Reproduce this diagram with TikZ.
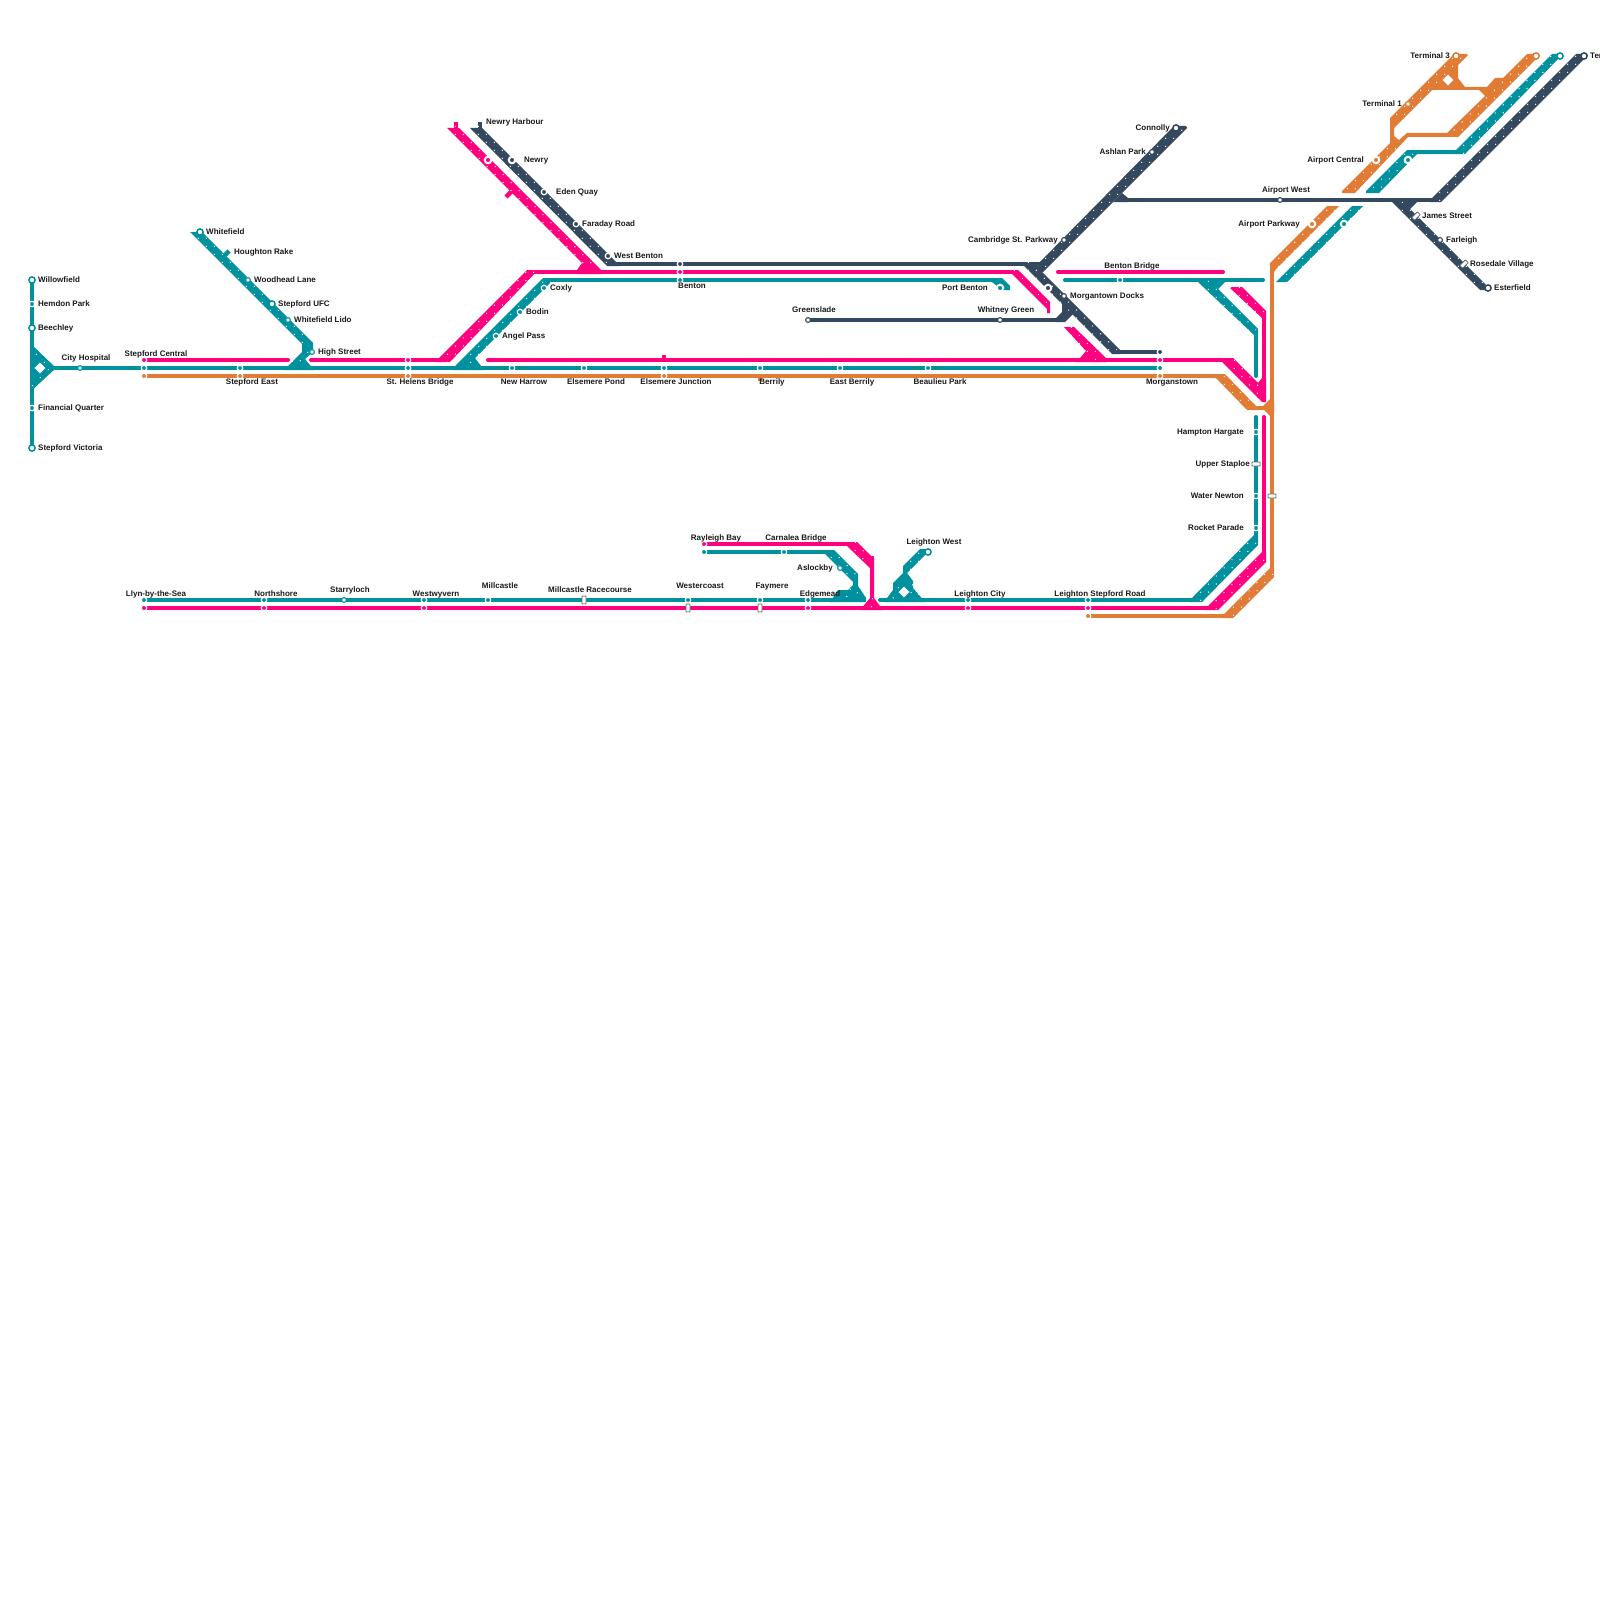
\documentclass[tikz,border=0pt]{standalone}
\usepackage{fontspec}
\setmainfont{Liberation Sans}
\usepackage{xcolor}
\usetikzlibrary{positioning, calc, backgrounds}

\definecolor{metroteal}{HTML}{00919E}
\definecolor{metropink}{HTML}{FF007F}
\definecolor{metroorange}{HTML}{E17C36}
\definecolor{metronavy}{HTML}{34495E}

\newcommand{\ribbondots}[2]{%
  \draw[dotsrow] ($#1!2.83pt!90:#2$) -- ($#2!2.83pt!-90:#1$);
  \draw[dotsrow, dash phase=5.66pt] ($#1!2.83pt!-90:#2$) -- ($#2!2.83pt!90:#1$);}

\begin{document}
\begin{tikzpicture}[x=1pt, y=-1pt,
  ringstop/.style={circle, fill=white, draw=#1, line width=1.5pt, minimum size=6.2pt, inner sep=0pt},
  tinyring/.style={circle, fill=white, draw=#1, line width=1.1pt, minimum size=4.8pt, inner sep=0pt},
  dotstop/.style={circle, fill=#1, draw=white, line width=1.2pt, minimum size=5.5pt, inner sep=0pt},
  hubstop/.style={circle, fill=#1, draw=white, line width=2pt, minimum size=6.5pt, inner sep=0pt},
  rectstop/.style={rectangle, rounded corners=0.5pt, fill=white, draw=black!60, line width=0.8pt, minimum width=8pt, minimum height=4pt, inner sep=0pt},
  gem/.style={rectangle, fill=white, rotate=45, minimum size=7.5pt, inner sep=0pt},
  lab/.style={font=\bfseries\fontsize{8}{8}\selectfont, text=black!90, inner sep=0pt, text height=7.8pt, text depth=0pt},
  tealline/.style={draw=metroteal, line width=4pt},
  pinkline/.style={draw=metropink, line width=4pt},
  orangeline/.style={draw=metroorange, line width=4pt},
  navyline/.style={draw=metronavy, line width=4pt},
  dotsrow/.style={draw=white, line width=1pt, dash pattern=on 1pt off 10.31pt}]

\useasboundingbox (0,0) rectangle (1600,1600);

% stations, west end
\node[ringstop=metroteal] (willowfield) at (32,280) {};
\node[dotstop=metroteal] (hemdon) at (32,304) {};
\node[ringstop=metroteal] (beechley) at (32,328) {};
\node[dotstop=metroteal] (financial) at (32,408) {};
\node[ringstop=metroteal] (victoria) at (32,448) {};
\node[tinyring=metroteal] (cityhospital) at (80,368) {};
\node[gem] (citygem) at (40,368) {};
\node[dotstop=metropink] (centralpink) at (144,360) {};
\node[dotstop=metroteal] (centralteal) at (144,368) {};
\node[dotstop=metroorange] (centralorange) at (144,376) {};
\node[dotstop=metroteal] (eastteal) at (240,368) {};
\node[dotstop=metroorange] (eastorange) at (240,376) {};
\node[ringstop=metroteal] (whitefield) at (200,232) {};
\node[tinyring=metroteal] (woodhead) at (248,280) {};
\node[ringstop=metroteal] (ufc) at (272,304) {};
\node[tinyring=metroteal] (lido) at (288,320) {};
\node[tinyring=metroteal] (highstreet) at (312,352) {};
\node[dotstop=metropink] (helenspink) at (408,360) {};
\node[dotstop=metroteal] (helensteal) at (408,368) {};
\node[dotstop=metroorange] (helensorange) at (408,376) {};

% stations, middle band
\node[hubstop=metropink] (newrypink) at (488,160) {};
\node[hubstop=metronavy] (newry) at (512,160) {};
\node[dotstop=metronavy] (edenquay) at (544,192) {};
\node[dotstop=metronavy] (faraday) at (576,224) {};
\node[dotstop=metronavy] (westbenton) at (608,256) {};
\node[dotstop=metroteal] (coxly) at (544,288) {};
\node[dotstop=metroteal] (bodin) at (520,312) {};
\node[dotstop=metroteal] (angelpass) at (496,336) {};
\node[dotstop=metroteal] (newharrow) at (512,368) {};
\node[dotstop=metroteal] (pond) at (584,368) {};
\node[dotstop=metroteal] (junctionteal) at (664,368) {};
\node[dotstop=metroorange] (junctionorange) at (664,376) {};
\node[dotstop=metronavy] (bentonnavy) at (680,264) {};
\node[dotstop=metropink] (bentonpink) at (680,272) {};
\node[dotstop=metroteal] (bentonteal) at (680,280) {};
\node[dotstop=metroteal] (berrily) at (760,368) {};
\node[dotstop=metroteal] (eastberrily) at (840,368) {};
\node[dotstop=metroteal] (beaulieu) at (928,368) {};
\node[tinyring=metronavy] (greenslade) at (808,320) {};
\node[tinyring=metronavy] (whitney) at (1000,320) {};
\node[hubstop=metroteal] (portbenton) at (1000,288) {};
\node[dotstop=metronavy] (morganone) at (1160,352) {};
\node[dotstop=metropink] (morgantwo) at (1160,360) {};
\node[dotstop=metroteal] (morganthree) at (1160,368) {};
\node[dotstop=metroorange] (morganfour) at (1160,376) {};

% stations, north east
\node[ringstop=metronavy] (connolly) at (1176,128) {};
\node[tinyring=metronavy] (ashlan) at (1152,152) {};
\node[tinyring=metronavy] (cambridge) at (1064,240) {};
\node[hubstop=metronavy] (docksnorth) at (1048,288) {};
\node[tinyring=metronavy] (docks) at (1064,296) {};
\node[dotstop=metroteal] (bentonbridge) at (1120,280) {};
\node[tinyring=metronavy] (airportwest) at (1280,200) {};
\node[hubstop=metroorange] (parkway) at (1312,224) {};
\node[hubstop=metroteal] (parkwayteal) at (1344,224) {};
\node[rectstop, rotate=45] (james) at (1416,216) {};
\node[tinyring=metronavy] (farleigh) at (1440,240) {};
\node[rectstop, rotate=45] (rosedale) at (1464,264) {};
\node[ringstop=metronavy] (esterfield) at (1488,288) {};
\node[hubstop=metroorange] (airportcentral) at (1376,160) {};
\node[hubstop=metroteal] (centraleast) at (1408,160) {};
\node[tinyring=metroorange] (terminalone) at (1408,104) {};
\node[ringstop=metroorange] (terminalthree) at (1456,56) {};
\node[gem] (terminalgem) at (1448,80) {};
\node[ringstop=metroorange] (orangeend) at (1536,56) {};
\node[ringstop=metroteal] (tealend) at (1560,56) {};
\node[ringstop=metronavy] (navyend) at (1584,56) {};

% stations, south side
\node[dotstop=metroteal] (hampton) at (1256,432) {};
\node[rectstop] (staploe) at (1256,464) {};
\node[dotstop=metroteal] (newton) at (1256,496) {};
\node[rectstop] (newtonorange) at (1272,496) {};
\node[dotstop=metroteal] (rocket) at (1256,528) {};
\node[dotstop=metroteal] (llynteal) at (144,600) {};
\node[dotstop=metropink] (llynpink) at (144,608) {};
\node[dotstop=metroteal] (northteal) at (264,600) {};
\node[dotstop=metropink] (northpink) at (264,608) {};
\node[tinyring=metroteal] (starry) at (344,600) {};
\node[dotstop=metroteal] (wyvernteal) at (424,600) {};
\node[dotstop=metropink] (wyvernpink) at (424,608) {};
\node[dotstop=metroteal] (millcastle) at (488,600) {};
\node[rectstop, rotate=90] (racecourse) at (584,600) {};
\node[dotstop=metroteal] (coastteal) at (688,600) {};
\node[rectstop, rotate=90] (coastpink) at (688,608) {};
\node[dotstop=metroteal] (faymereteal) at (760,600) {};
\node[rectstop, rotate=90] (faymerepink) at (760,608) {};
\node[dotstop=metroteal] (edgeteal) at (808,600) {};
\node[dotstop=metropink] (edgepink) at (808,608) {};
\node[dotstop=metropink] (rayleighpink) at (704,544) {};
\node[dotstop=metroteal] (rayleighteal) at (704,552) {};
\node[dotstop=metroteal] (carnalea) at (784,552) {};
\node[tinyring=metroteal] (aslockby) at (840,568) {};
\node[ringstop=metroteal] (leightonwest) at (928,552) {};
\node[gem] (leightongem) at (904,592) {};
\node[dotstop=metroteal] (cityteal) at (968,600) {};
\node[dotstop=metropink] (citypink) at (968,608) {};
\node[dotstop=metroteal] (roadteal) at (1088,600) {};
\node[dotstop=metropink] (roadpink) at (1088,608) {};
\node[dotstop=metroorange] (roadorange) at (1088,616) {};

% labels
\node[lab, anchor=west] (willowfieldlabel) at (38,279) {Willowfield};
\node[lab, anchor=west] (hemdonlabel) at (38,303) {Hemdon Park};
\node[lab, anchor=west] (beechleylabel) at (38,327) {Beechley};
\node[lab, anchor=west] (financiallabel) at (38,407) {Financial Quarter};
\node[lab, anchor=west] (victorialabel) at (38,447) {Stepford Victoria};
\node[lab] (citylabel) at (86,357) {City Hospital};
\node[lab] (centrallabel) at (156,353) {Stepford Central};
\node[lab] (eastlabel) at (252,381) {Stepford East};
\node[lab, anchor=west] (whitefieldlabel) at (206,231) {Whitefield};
\node[lab, anchor=west] (houghtonlabel) at (234,251) {Houghton Rake};
\node[lab, anchor=west] (woodheadlabel) at (254,279) {Woodhead Lane};
\node[lab, anchor=west] (ufclabel) at (278,303) {Stepford UFC};
\node[lab, anchor=west] (lidolabel) at (294,319) {Whitefield Lido};
\node[lab, anchor=west] (highlabel) at (318,351) {High Street};
\node[lab] (helenslabel) at (420,381) {St. Helens Bridge};
\node[lab, anchor=west] (harbourlabel) at (486,121) {Newry Harbour};
\node[lab, anchor=west] (newrylabel) at (524,159) {Newry};
\node[lab, anchor=west] (edenlabel) at (556,191) {Eden Quay};
\node[lab, anchor=west] (faradaylabel) at (582,223) {Faraday Road};
\node[lab, anchor=west] (westbentonlabel) at (614,255) {West Benton};
\node[lab, anchor=west] (coxlylabel) at (550,287) {Coxly};
\node[lab, anchor=west] (bodinlabel) at (526,311) {Bodin};
\node[lab, anchor=west] (angellabel) at (502,335) {Angel Pass};
\node[lab] (harrowlabel) at (524,381) {New Harrow};
\node[lab] (pondlabel) at (596,381) {Elsemere Pond};
\node[lab] (junctionlabel) at (676,381) {Elsemere Junction};
\node[lab] (bentonlabel) at (692,285) {Benton};
\node[lab] (berrilylabel) at (772,381) {Berrily};
\node[lab] (eastberrilylabel) at (852,381) {East Berrily};
\node[lab] (beaulieulabel) at (940,381) {Beaulieu Park};
\node[lab] (greensladelabel) at (814,309) {Greenslade};
\node[lab] (whitneylabel) at (1006,309) {Whitney Green};
\node[lab, anchor=east] (portlabel) at (988,287) {Port Benton};
\node[lab] (morganlabel) at (1172,381) {Morganstown};
\node[lab, anchor=east] (connollylabel) at (1170,127) {Connolly};
\node[lab, anchor=east] (ashlanlabel) at (1146,151) {Ashlan Park};
\node[lab, anchor=east] (cambridgelabel) at (1058,239) {Cambridge St. Parkway};
\node[lab, anchor=west] (dockslabel) at (1070,295) {Morgantown Docks};
\node[lab] (bridgelabel) at (1132,265) {Benton Bridge};
\node[lab] (airportwestlabel) at (1286,189) {Airport West};
\node[lab, anchor=east] (parkwaylabel) at (1300,223) {Airport Parkway};
\node[lab, anchor=west] (jameslabel) at (1422,215) {James Street};
\node[lab, anchor=west] (farleighlabel) at (1446,239) {Farleigh};
\node[lab, anchor=west] (rosedalelabel) at (1470,263) {Rosedale Village};
\node[lab, anchor=west] (esterfieldlabel) at (1494,287) {Esterfield};
\node[lab, anchor=east] (airportcentrallabel) at (1364,159) {Airport Central};
\node[lab, anchor=east] (terminalonelabel) at (1402,103) {Terminal 1};
\node[lab, anchor=east] (terminalthreelabel) at (1450,55) {Terminal 3};
\node[lab, anchor=west] (navyendlabel) at (1590,55) {Terminal 2};
\node[lab, anchor=east] (hamptonlabel) at (1244,431) {Hampton Hargate};
\node[lab, anchor=east] (staploelabel) at (1250,463) {Upper Staploe};
\node[lab, anchor=east] (newtonlabel) at (1244,495) {Water Newton};
\node[lab, anchor=east] (rocketlabel) at (1244,527) {Rocket Parade};
\node[lab] (llynlabel) at (156,593) {Llyn-by-the-Sea};
\node[lab] (northlabel) at (276,593) {Northshore};
\node[lab] (starrylabel) at (350,589) {Starryloch};
\node[lab] (wyvernlabel) at (436,593) {Westwyvern};
\node[lab] (millcastlelabel) at (500,585) {Millcastle};
\node[lab] (racecourselabel) at (590,589) {Millcastle Racecourse};
\node[lab] (coastlabel) at (700,585) {Westercoast};
\node[lab] (faymerelabel) at (772,585) {Faymere};
\node[lab] (edgelabel) at (820,593) {Edgemead};
\node[lab] (rayleighlabel) at (716,537) {Rayleigh Bay};
\node[lab] (carnalealabel) at (796,537) {Carnalea Bridge};
\node[lab, anchor=east] (aslockbylabel) at (833,567) {Aslockby};
\node[lab] (leightonwestlabel) at (934,541) {Leighton West};
\node[lab] (leightoncitylabel) at (980,593) {Leighton City};
\node[lab] (roadlabel) at (1100,593) {Leighton Stepford Road};

\begin{scope}[on background layer]
% free ends of the lines
\coordinate (pinkstop) at (288,360);
\coordinate (pinkback) at (311,360);
\coordinate (pinkhelens) at (445,360);
\coordinate (pinkrun) at (488,360);
\coordinate (pinkfork) at (1228,360);
\coordinate (orangefork) at (1220,376);
\coordinate (navyjoin) at (1040,264);
\coordinate (navywest) at (612,264);
\coordinate (pinknorth) at (532,272);
\coordinate (pinkport) at (1012,272);
\coordinate (tealnorth) at (549,280);
\coordinate (tealport) at (998,280);
\coordinate (greenend) at (1060,320);
\coordinate (navydown) at (1112,352);
\coordinate (navyfork) at (1120,200);
\coordinate (navyrise) at (1438,200);
\coordinate (bridgewest) at (1058,272);
\coordinate (bridgeeast) at (1223,272);
\coordinate (tealbridge) at (1065,280);
\coordinate (tealbridgeend) at (1263,280);

% horizontal lines
\draw[tealline] (32,280) -- (victoria.center);
\draw[tealline] (citygem.center) -- (centralteal.center);
\draw[tealline] (centralteal.center) -- (morganthree.center);
\draw[pinkline, line cap=round] (centralpink.center) -- (pinkstop);
\draw[pinkline, line cap=round] (pinkback) -- (helenspink.center) -- (pinkhelens);
\draw[pinkline, line cap=round] (pinkrun) -- (morgantwo.center) -- (pinkfork);
\draw[orangeline] (centralorange.center) -- (orangefork);
\draw[navyline] (navywest) -- (navyjoin);
\draw[pinkline] (pinknorth) -- (pinkport);
\draw[tealline] (tealnorth) -- (tealport);
\draw[navyline] (greenslade.center) -- (greenend);
\draw[navyline] (navydown) -- (morganone.center);
\draw[navyline] (navyfork) -- (navyrise);
\draw[pinkline, line cap=round] (bridgewest) -- (bridgeeast);
\draw[tealline, line cap=round] (tealbridge) -- (tealbridgeend);
\draw[orangeline] (760,376) -- (760,381);
\draw[pinkline] (664,355) -- (664,360);

% vertical lines
\draw[tealline, line cap=round] (1256,335) -- (1256,376);
\draw[tealline, line cap=round] (1256,417) -- (1256,538);
\draw[pinkline] (1264,315) -- (1264,400);
\draw[pinkline, line cap=round] (1264,417) -- (1264,555);
\draw[orangeline] (1272,265) -- (1272,570);

% south side lines
\draw[tealline] (llynteal.center) -- (855,600);
\draw[tealline, line cap=round] (880,600) -- (1198,600);
\draw[pinkline] (llynpink.center) -- (1212,608);
\draw[orangeline] (roadorange.center) -- (1228,616);
\draw[pinkline] (rayleighpink.center) -- (852,544);
\draw[tealline] (rayleighteal.center) -- (828,552);
\draw[pinkline] (872,556) -- (872,602);

% west shapes
\fill[metroteal] (30,343) -- (56,368) -- (30,392) -- cycle;
\fill[metroteal] (190,232) -- (202,232) -- (313,343) -- (313,352) -- (305,359) -- (314,370) -- (284,370) -- (302,352) -- (302,344) -- cycle;
\draw[tealline, line width=4.5pt] (222,258) -- (229,251);
\ribbondots{(34,348)}{(52,366)}
\ribbondots{(34,388)}{(52,370)}
\ribbondots{(196,232)}{(306,342)}
\ribbondots{(306,350)}{(292,366)}

% north shapes
\draw[pinkline] (456,122) -- (456,130);
\draw[navyline] (480,122) -- (480,130);
\draw[pinkline, line width=4.5pt] (513,190) -- (506,197);
\fill[metropink] (447,128) -- (459,128) -- (601,270) -- (601,274) -- (577,274) -- (577,270) -- (582,263) -- cycle;
\fill[metronavy] (470,128) -- (482,128) -- (618,264) -- (620,266) -- (607,266) -- cycle;
\fill[metropink] (527,270) -- (538,270) -- (450,362) -- (436,362) -- (439,358) -- cycle;
\fill[metroteal] (543,278) -- (555,278) -- (475,358) -- (484,370) -- (453,370) -- (456,365) -- cycle;
\ribbondots{(453,128)}{(592,268)}
\ribbondots{(476,128)}{(610,262)}
\ribbondots{(532,270)}{(445,361)}
\ribbondots{(549,280)}{(465,364)}

% middle shapes
\fill[metropink] (1008,270) -- (1018,270) -- (1050,302) -- (1050,313) -- (1047,313) -- (1047,309) -- cycle;
\fill[metroteal] (992,278) -- (1002,278) -- (1010,286) -- (1010,290) -- (1002,290) -- (992,282) -- cycle;
\fill[metronavy] (1174,126) -- (1186,126) -- (1187,128) -- (1043,272) -- (1035,272) -- (1035,267) -- cycle;
\fill[metronavy] (1020,262) -- (1032,262) -- (1120,350) -- (1120,354) -- (1112,354) -- cycle;
\fill[metronavy] (1062,303) -- (1062,312) -- (1056,318) -- (1056,322) -- (1065,322) -- (1074,313) -- cycle;
\fill[metronavy] (1122,193) -- (1128,198) -- (1128,202) -- (1113,202) -- cycle;
\fill[metropink] (1064,327) -- (1074,327) -- (1106,358) -- (1106,362) -- (1075,362) -- (1080,358) -- (1086,351) -- cycle;
\ribbondots{(1012,272)}{(1046,306)}
\ribbondots{(1180,128)}{(1040,268)}
\ribbondots{(1026,264)}{(1115,352)}
\ribbondots{(1069,329)}{(1100,360)}

% east shapes
\fill[metroteal] (1198,282) -- (1225,282) -- (1218,289) -- (1258,329) -- (1258,337) -- (1254,337) -- (1254,335) -- cycle;
\fill[metropink] (1230,288) -- (1232,287) -- (1242,287) -- (1266,311) -- (1266,320) -- (1262,320) -- (1262,318) -- cycle;
\fill[metropink] (1220,358) -- (1233,358) -- (1258,383) -- (1262,378) -- (1266,378) -- (1266,402) -- (1262,402) -- (1222,362) -- cycle;
\fill[metroorange] (1212,374) -- (1225,374) -- (1256,406) -- (1263,406) -- (1270,399) -- (1274,399) -- (1274,416) -- (1270,416) -- (1264,410) -- (1247,410) -- (1216,378) -- (1212,378) -- cycle;
\fill[metroorange] (1270,263) -- (1327,206) -- (1339,206) -- (1277,268) -- (1274,272) -- (1270,272) -- cycle;
\fill[metroteal] (1352,206) -- (1363,206) -- (1287,282) -- (1276,282) -- cycle;
\fill[metroorange] (1270,568) -- (1274,568) -- (1274,577) -- (1233,618) -- (1222,618) -- (1224,614) -- cycle;
\fill[metropink] (1262,552) -- (1266,552) -- (1266,562) -- (1218,610) -- (1205,610) -- (1208,606) -- cycle;
\fill[metroteal] (1254,535) -- (1258,535) -- (1258,545) -- (1202,602) -- (1190,602) -- (1192,598) -- cycle;
\ribbondots{(1206,283)}{(1254,332)}
\ribbondots{(1237,289)}{(1262,314)}
\ribbondots{(1232,362)}{(1260,392)}
\ribbondots{(1222,378)}{(1250,406)}
\ribbondots{(1333,208)}{(1276,265)}
\ribbondots{(1357,208)}{(1284,281)}
\ribbondots{(1271,572)}{(1229,616)}
\ribbondots{(1262,558)}{(1213,608)}
\ribbondots{(1254,541)}{(1197,600)}

% airport shapes
\fill[metroorange, even odd rule] (1342,191) -- (1390,143) -- (1390,118) -- (1452,56) -- (1454,54) -- (1466,54) -- (1468,55) -- (1458,65) -- (1458,78) -- (1465,87) -- (1487,87) -- (1495,78) -- (1503,78) -- (1527,54) -- (1538,54) -- (1540,55) -- (1458,137) -- (1408,137) -- (1355,193) -- (1342,193) -- cycle
  (1432,90) -- (1479,90) -- (1485,96) -- (1447,133) -- (1407,133) -- (1399,140) -- (1394,136) -- (1394,128) -- cycle;
\fill[metroteal] (1366,191) -- (1407,150) -- (1456,150) -- (1552,54) -- (1563,54) -- (1465,154) -- (1417,154) -- (1379,193) -- (1366,193) -- cycle;
\fill[metronavy] (1432,198) -- (1576,54) -- (1586,54) -- (1588,55) -- (1441,202) -- (1430,202) -- cycle;
\fill[metronavy] (1392,202) -- (1392,198) -- (1417,198) -- (1417,202) -- (1410,209) -- (1491,290) -- (1480,290) -- cycle;
\ribbondots{(1533,56)}{(1453,135)}
\ribbondots{(1349,191)}{(1395,145)}
\ribbondots{(1459,56)}{(1396,119)}
\ribbondots{(1557,54)}{(1461,152)}
\ribbondots{(1411,152)}{(1373,192)}
\ribbondots{(1582,54)}{(1436,200)}
\ribbondots{(1400,204)}{(1484,288)}

% south shapes
\fill[metropink] (846,542) -- (857,542) -- (874,559) -- (874,598) -- (883,610) -- (860,610) -- (870,598) -- (870,568) -- (846,545) -- cycle;
\fill[metroteal] (823,550) -- (834,550) -- (858,574) -- (858,586) -- (866,598) -- (866,602) -- (830,602) -- (838,590) -- (848,590) -- (853,585) -- (853,582) -- (823,552) -- cycle;
\fill[metroteal] (920,549) -- (931,549) -- (907,573) -- (913,581) -- (913,588) -- (925,602) -- (884,602) -- (893,590) -- (893,583) -- (903,573) -- (903,566) -- cycle;
\ribbondots{(853,544)}{(868,560)}
\ribbondots{(829,551)}{(855,578)}
\ribbondots{(857,590)}{(845,594)}
\ribbondots{(925,551)}{(907,569)}
\ribbondots{(896,586)}{(890,598)}
\ribbondots{(910,586)}{(918,598)}
\ribbondots{(870,600)}{(876,608)}
\end{scope}

\end{tikzpicture}
\end{document}
